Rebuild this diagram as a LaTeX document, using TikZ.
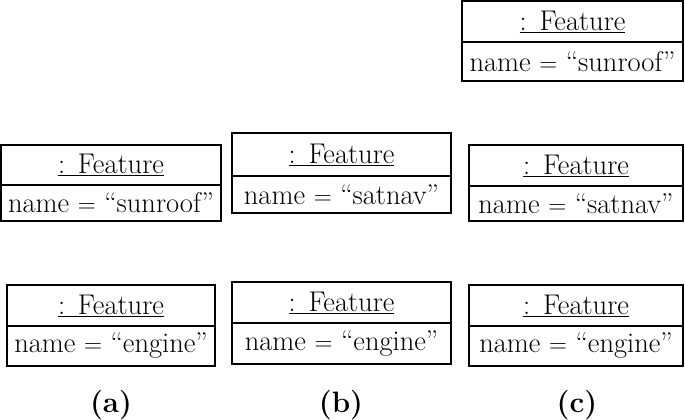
\documentclass[tikz,border=0pt]{standalone}
\begin{document}
\begin{tikzpicture}[x=1pt,y=-1pt,
  cell/.style={draw, line width=1.5pt, inner sep=0pt, outer sep=0pt, font=\fontsize{28.5}{32}\selectfont},
  sublabel/.style={font=\fontsize{29.5}{32}\selectfont\bfseries, inner sep=0pt}]
\useasboundingbox (0,0) rectangle (685,420);
\newcommand\objbox[7]{%
  \pgfmathsetmacro\boxw{#4-#2}%
  \pgfmathsetmacro\boxha{#5-#3}%
  \pgfmathsetmacro\boxhb{#6-#5}%
  \node[cell, minimum width=\boxw pt, minimum height=\boxha pt] (#1-h) at ({(#2+#4)/2},{(#3+#5)/2}) {\underline{:\hspace{0.45em}Feature}};
  \node[cell, minimum width=\boxw pt, minimum height=\boxhb pt] (#1-v) at ({(#2+#4)/2},{(#5+#6)/2}) {name $=$ ``#7''};
}
\objbox{topc}{462}{1}{683}{42}{81}{sunroof}
\objbox{sa}{1}{145}{221}{185}{221}{sunroof}
\objbox{sb}{232}{133}{451}{176}{213}{satnav}
\objbox{sc}{469}{145}{683}{186}{221}{satnav}
\objbox{ea}{7}{285}{215}{326}{366}{engine}
\objbox{eb}{232}{282}{451}{323}{364}{engine}
\objbox{ec}{469}{285}{683}{326}{366}{engine}
\node[sublabel] (la) at (111,405) {(a)};
\node[sublabel] (lb) at (341,405) {(b)};
\node[sublabel] (lc) at (577,405) {(c)};
\end{tikzpicture}
\end{document}
